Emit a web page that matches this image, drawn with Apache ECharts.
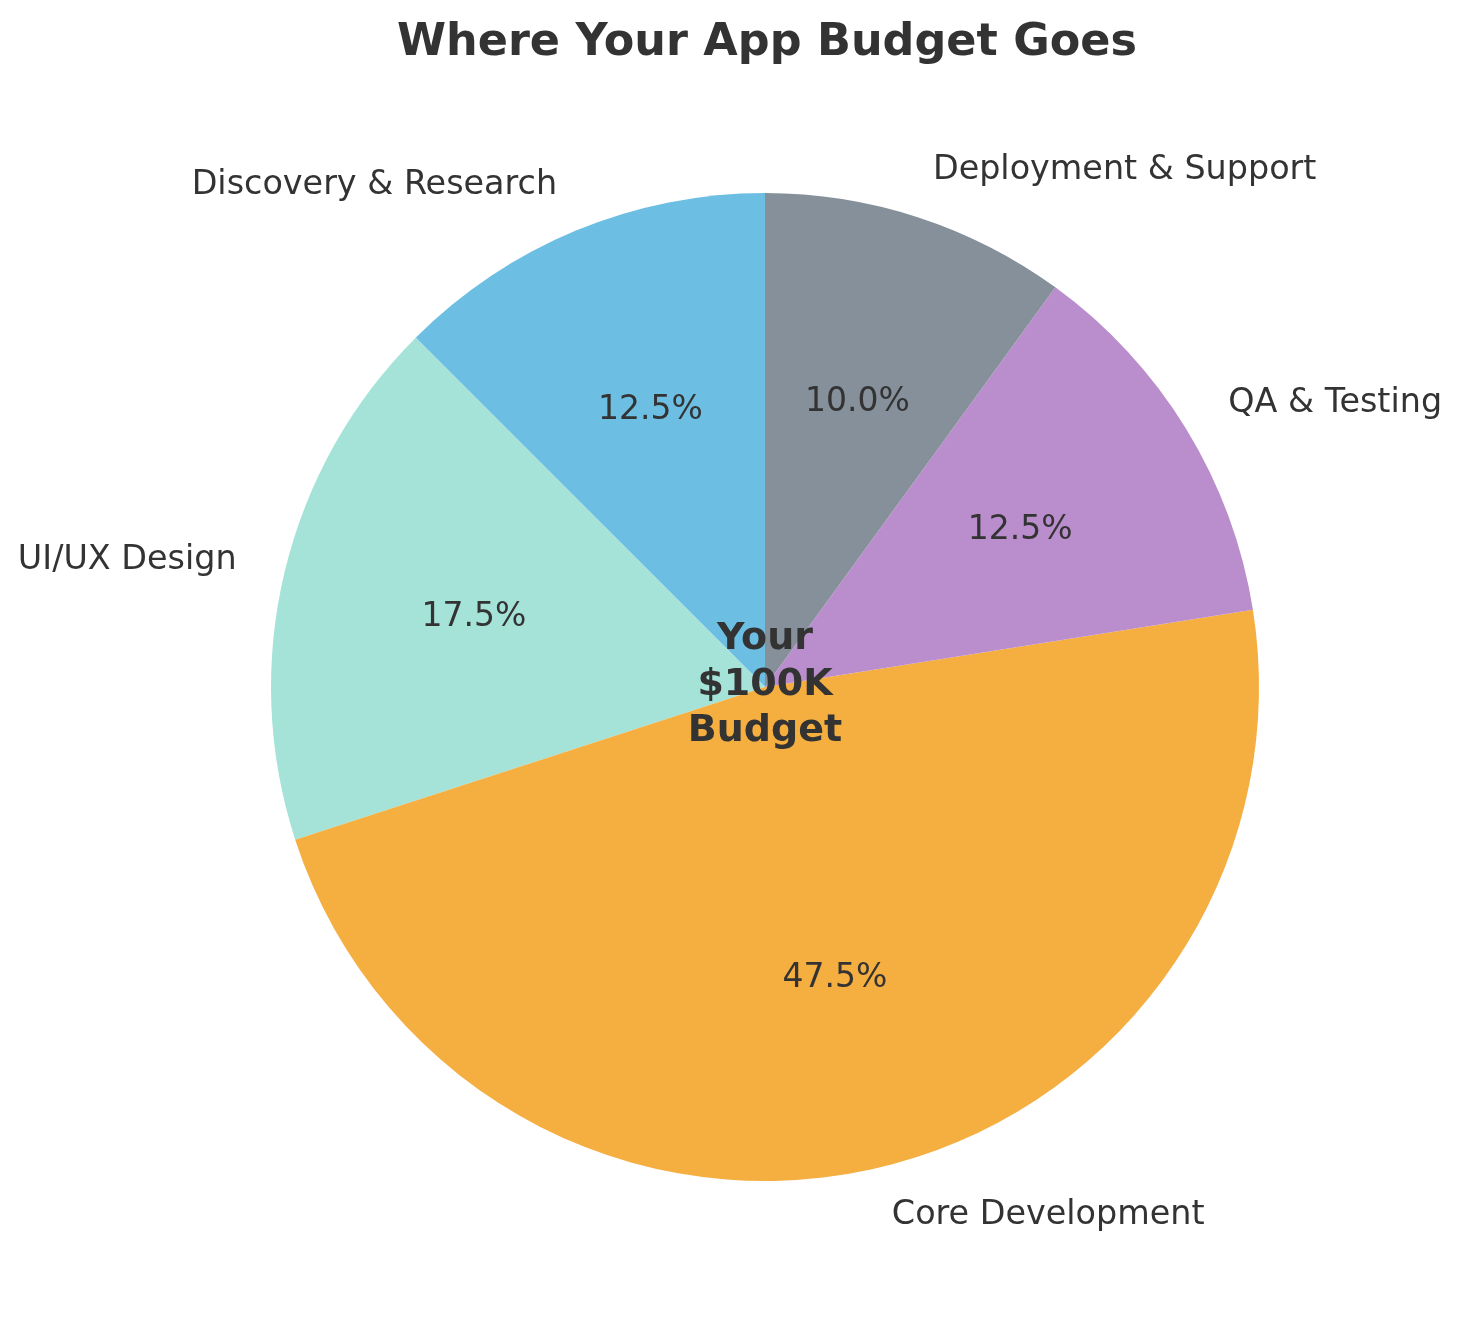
<!DOCTYPE html>
<html><head><meta charset="utf-8">
<script src="https://cdn.jsdelivr.net/npm/echarts@6/dist/echarts.min.js"></script>
<style>html,body{margin:0;padding:0;background:#fff}#c{width:1461px;height:1322px}</style>
</head><body><div id="c"></div>
<script>
const categories = ['Discovery & Research', 'UI/UX Design', 'Core Development', 'QA & Testing', 'Deployment & Support'];
const values = [12.5, 17.5, 47.5, 12.5, 10.0];
const colors = ['#6DBEE3', '#A5E3D8', '#F5AE40', '#BA8ECC', '#85909B'];
const centerText = 'Your\n$100K\nBudget';
const titleText = 'Where Your App Budget Goes';

const R = 494, CX = 765, CY = 687;
const font = 'DejaVu Sans';
const data = categories.map((n, i) => ({ name: n, value: values[i], itemStyle: { color: colors[i] } }));

const chart = echarts.init(document.getElementById('c'));
chart.setOption({
  animation: false,
  title: {
    text: titleText, left: CX - 3, top: 16, textAlign: 'center',
    textStyle: { fontFamily: font, fontSize: 44.5, fontWeight: 'bold', color: '#333333' }
  },
  graphic: [{
    type: 'text', x: CX, y: CY - 2, z: 100,
    style: { text: centerText, fontFamily: font, fontSize: 38, fontWeight: 'bold', fill: '#333333',
      align: 'center', verticalAlign: 'middle', lineHeight: 46 }
  }],
  series: [
    {
      type: 'pie', center: [CX, CY], radius: [0, R], startAngle: 90, clockwise: false,
      avoidLabelOverlap: false, silent: true,
      itemStyle: { borderWidth: 0 },
      label: { show: true, position: 'outside', formatter: '{b}', fontFamily: font, fontSize: 33.4,
        color: '#333333', distanceToLabelLine: 0, alignTo: 'none' },
      labelLine: { show: false, length: R * 0.1, length2: 0 },
      data: data
    },
    {
      type: 'pie', center: [CX, CY], radius: [0, R * 1.2], startAngle: 90, clockwise: false,
      avoidLabelOverlap: false, silent: true,
      itemStyle: { color: 'rgba(0,0,0,0)', borderWidth: 0 },
      label: { show: true, position: 'inside', formatter: p => p.value.toFixed(1) + '%',
        fontFamily: font, fontSize: 33, color: '#333333' },
      labelLine: { show: false },
      data: categories.map((n, i) => ({ name: n, value: values[i] }))
    }
  ]
});
</script></body></html>
